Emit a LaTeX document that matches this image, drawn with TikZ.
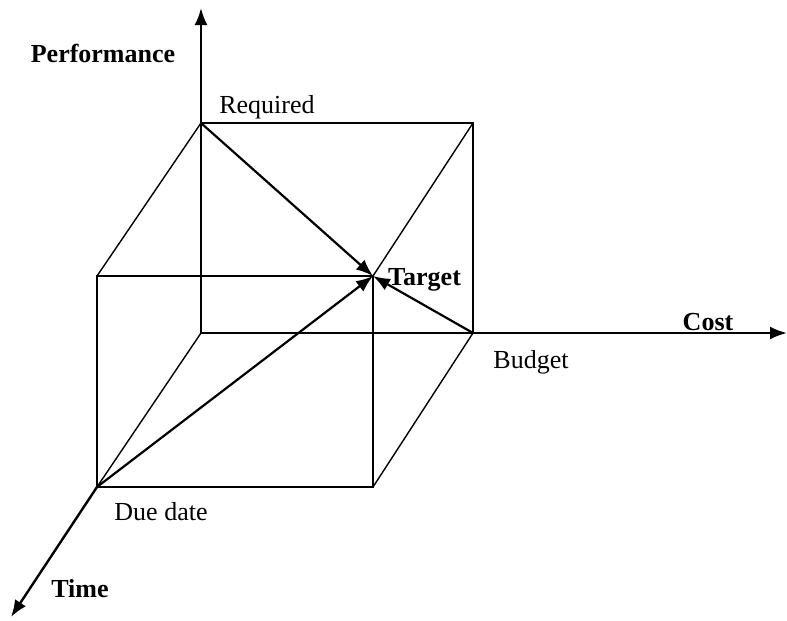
\documentclass[tikz,border=0pt]{standalone}
\usepackage{fontspec}
\setmainfont{Liberation Serif}
\usetikzlibrary{arrows.meta}
\begin{document}
\begin{tikzpicture}[x=1pt,y=-1pt,
  edge/.style={line width=1.8pt},
  thinedge/.style={line width=1.4pt},
  axis/.style={line width=2.4pt,-{Latex[length=17pt,width=13pt]}},
  arr/.style={line width=2.2pt,-{Latex[length=17pt,width=13pt]}},
  lbl/.style={font=\fontsize{26}{30}\selectfont,inner sep=0pt},
  blbl/.style={font=\fontsize{26}{30}\selectfont\bfseries,inner sep=0pt}]
\useasboundingbox (0,0) rectangle (787,621);
% back face
\coordinate (O) at (201,333);
\coordinate (R) at (201,123);
\coordinate (BR) at (473,123);
\coordinate (B) at (473,333);
% front face
\coordinate (FTL) at (97,276);
\coordinate (T) at (373,276);
\coordinate (FBR) at (373,487);
\coordinate (D) at (97,487);
% axis ends
\coordinate (Ptop) at (201,8);
\coordinate (Cstart) at (586,333);
\coordinate (Cend) at (787,333);
\coordinate (Tend) at (11,617);
% cube
\draw[edge] (R) -- (BR) -- (B);
\draw[edge] (O) -- (B) -- (Cstart);
\draw[edge] (FTL) -- (T) -- (FBR) -- (D) -- cycle;
\draw[thinedge] (FTL) -- (R);
\draw[thinedge] (T) -- (BR);
\draw[thinedge] (FBR) -- (B);
\draw[thinedge] (D) -- (O);
% axes
\draw[axis] (O) -- (Ptop);
\draw[axis] (Cstart) -- (Cend);
\draw[axis] (D) -- (Tend);
% arrows to target
\draw[arr] (R) -- (T);
\draw[arr] (D) -- (T);
\draw[arr] (B) -- (T);
% labels
\node[blbl,anchor=base] (perf) at (103,62) {Performance};
\node[lbl,anchor=base] (req) at (267,113) {Required};
\node[blbl,anchor=base west] (tgt) at (388,285) {Target};
\node[blbl,anchor=base] (cost) at (708,330) {Cost};
\node[lbl,anchor=base] (bud) at (531,368) {Budget};
\node[lbl,anchor=base] (due) at (161,520) {Due date};
\node[blbl,anchor=base] (time) at (80,597) {Time};
\end{tikzpicture}
\end{document}
